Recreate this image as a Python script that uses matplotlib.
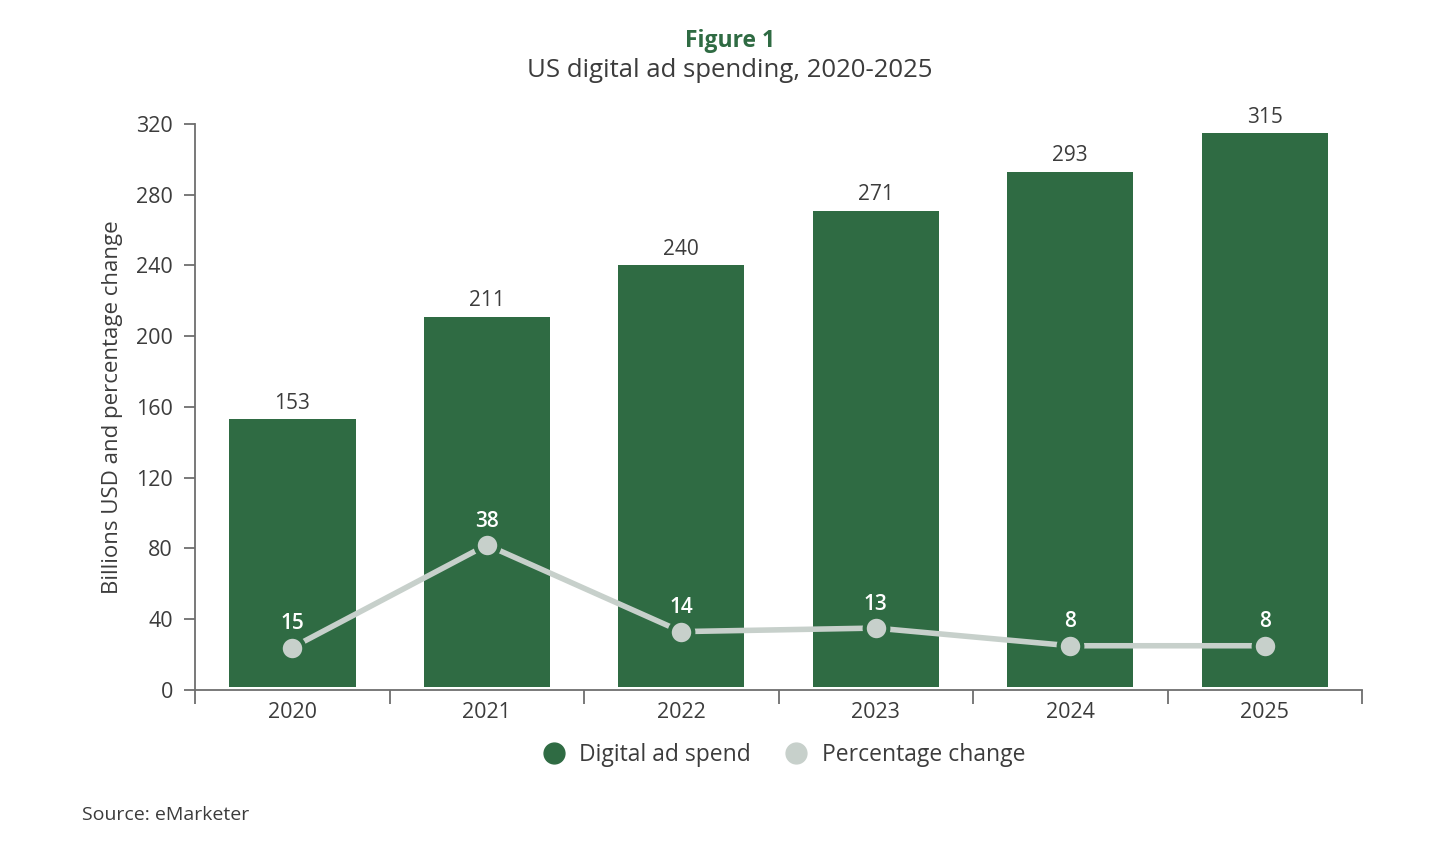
import matplotlib.pyplot as plt
import numpy as np

plt.rcParams['font.family'] = ['Open Sans', 'DejaVu Sans']

years = ['2020', '2021', '2022', '2023', '2024', '2025']
spend = [153, 211, 240, 271, 293, 315]
pct_labels = [15, 38, 14, 13, 8, 8]
# where the line points sit on the chart (not proportional to labels)
pct_pos = [24, 82, 33, 35, 25, 25]

green = '#2F6B43'
line_col = '#C7D0CB'
text_col = '#3C3C3C'
axis_col = '#6E6E6E'

fig = plt.figure(figsize=(14.46, 8.44), dpi=100)
ax = fig.add_axes([0.1349, 0.1825, 0.807, 0.6706])

x = np.arange(len(years))
ax.bar(x, np.array(spend) - 1.5, bottom=1.5, width=0.65, color=green, zorder=2)
for xi, v in zip(x, spend):
    ax.text(xi, v + 3, str(v), ha='center', va='bottom', fontsize=15, color=text_col)

ax.plot(x, pct_pos, color=line_col, lw=4, zorder=3)
ax.plot(x, pct_pos, 'o', ms=17, color=line_col, mec=green, mew=3, zorder=4)
for xi, yv, lab in zip(x, pct_pos, pct_labels):
    ax.text(xi, yv + 7.5, str(lab), ha='center', va='bottom', fontsize=15,
            color='white', fontweight='semibold', zorder=5)

ax.set_xlim(-0.5, 5.5)
ax.set_ylim(0, 320)
ax.set_yticks(range(0, 321, 40))
ax.set_xticks(np.arange(-0.5, 5.6, 1))
ax.set_xticklabels([])
ax.set_xticks(x, minor=True)
ax.set_xticklabels(years, minor=True)
ax.tick_params(axis='x', which='minor', length=0, pad=9, labelsize=15.5, labelcolor=text_col)
ax.tick_params(axis='x', which='major', length=10, color=axis_col, width=1.3)
ax.tick_params(axis='y', length=8, color=axis_col, width=1.3, pad=8, labelsize=15.5, labelcolor=text_col)

for s in ['top', 'right']:
    ax.spines[s].set_visible(False)
for s in ['left', 'bottom']:
    ax.spines[s].set_color(axis_col)
    ax.spines[s].set_linewidth(1.3)

ax.set_ylabel('Billions USD and percentage change', fontsize=16, color=text_col, labelpad=9)

fig.text(0.505, 0.951, 'Figure 1', ha='center', va='center', fontsize=16.5,
         fontweight='bold', color=green)
fig.text(0.505, 0.917, 'US digital ad spending, 2020-2025', ha='center', va='center',
         fontsize=18.5, color=text_col)

h1 = plt.Line2D([], [], marker='o', ls='', ms=15, color=green)
h2 = plt.Line2D([], [], marker='o', ls='', ms=15, color=line_col)
fig.legend([h1, h2], ['Digital ad spend', 'Percentage change'], loc='center',
           bbox_to_anchor=(0.538, 0.106), ncol=2, frameon=False, fontsize=16.5,
           labelcolor=text_col, handletextpad=0.1, columnspacing=1.0)

fig.text(0.057, 0.034, 'Source: eMarketer', ha='left', va='center', fontsize=14, color=text_col)

fig.savefig('out.png', dpi=100)
